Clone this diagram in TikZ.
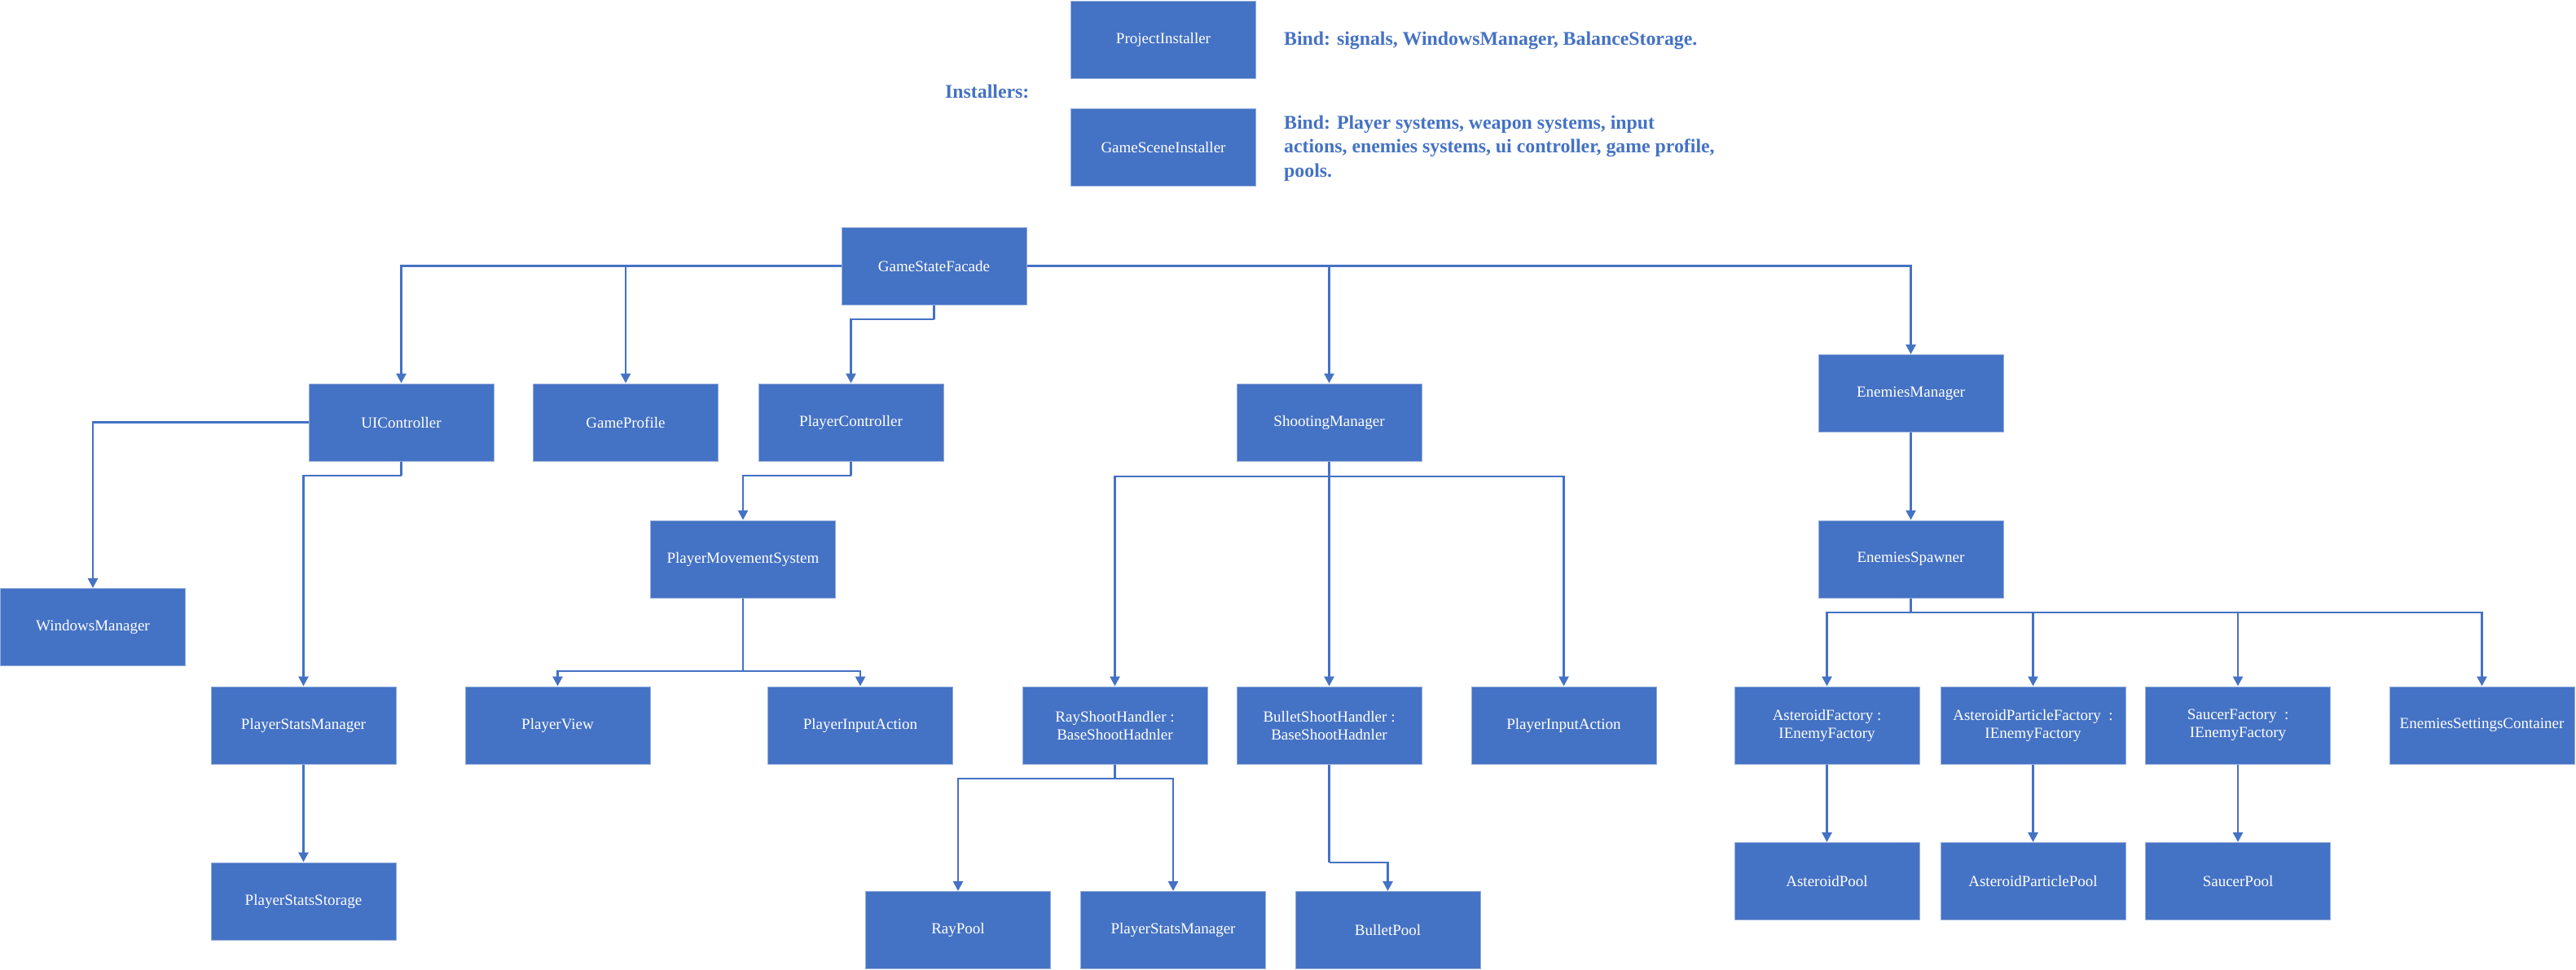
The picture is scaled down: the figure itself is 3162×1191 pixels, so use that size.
\documentclass[tikz,border=0pt]{standalone}
\usepackage{fontspec}
\setmainfont{Liberation Serif}
\usetikzlibrary{arrows.meta}
\definecolor{boxblue}{RGB}{68,114,196}
\definecolor{boxedge}{RGB}{150,175,220}
\tikzset{
  box/.style={rectangle, fill=boxblue, draw=boxedge, line width=1pt,
    minimum width=227pt, minimum height=95pt, inner sep=0pt,
    text=white, align=center, font=\fontsize{19}{22}\selectfont},
  conn/.style={draw=boxblue, line width=2.8pt,
    -{Triangle[length=12pt,width=12pt]}},
  plain/.style={draw=boxblue, line width=2.8pt},
  note/.style={text=boxblue, inner sep=0pt, align=left,
    font=\fontsize{23.8}{29.5}\selectfont\bfseries}
}
\begin{document}
\begin{tikzpicture}[x=1pt,y=-1pt]
\useasboundingbox[fill=white] (0,0) rectangle (3162,1191);

% installers
\node[box] (PI) at (1428,49) {ProjectInstaller};
\node[box] (GSI) at (1428,180.5) {GameSceneInstaller};
\node[note, anchor=base west] (inst) at (1160,120) {Installers:};
\node[note, anchor=base west] (bind1) at (1576,55) {Bind: signals, WindowsManager, BalanceStorage.};
\node[note, anchor=base west] (bind2) at (1576,217) {Bind: Player systems, weapon systems, input\\actions, enemies systems, ui controller, game profile,\\pools.};

% boxes
\node[box] (GSF) at (1146.5,326.5) {GameStateFacade};
\node[box] (UIC) at (492.5,518.5) {UIController};
\node[box] (GP) at (768,518.5) {GameProfile};
\node[box] (PC) at (1044.5,518.5) {PlayerController};
\node[box] (SM) at (1631.5,518.5) {ShootingManager};
\node[box] (EM) at (2345.5,483) {EnemiesManager};
\node[box] (ES) at (2345.5,686.5) {EnemiesSpawner};
\node[box] (WM) at (114,770) {WindowsManager};
\node[box] (PMS) at (912,686.5) {PlayerMovementSystem};
\node[box] (PSM) at (372.5,890.5) {PlayerStatsManager};
\node[box] (PSS) at (372.5,1106.5) {PlayerStatsStorage};
\node[box] (PV) at (684.5,890.5) {PlayerView};
\node[box] (PIA) at (1056,890.5) {PlayerInputAction};
\node[box] (RSH) at (1368.5,890.5) {RayShootHandler :\\BaseShootHadnler};
\node[box] (BSH) at (1631.5,890.5) {BulletShootHandler :\\BaseShootHadnler};
\node[box] (PIA2) at (1919.5,890.5) {PlayerInputAction};
\node[box] (AF) at (2242.5,890.5) {AsteroidFactory :\\IEnemyFactory};
\node[box] (APF) at (2495.5,890.5) {AsteroidParticleFactory\ \ :\\IEnemyFactory};
\node[box] (SF) at (2747,890.5) {SaucerFactory\ \ :\\IEnemyFactory};
\node[box] (ESC) at (3046.5,890.5) {EnemiesSettingsContainer};
\node[box] (RP) at (1176,1142) {RayPool};
\node[box] (PSM2) at (1440,1142) {PlayerStatsManager};
\node[box] (BP) at (1703.5,1142) {BulletPool};
\node[box] (AP) at (2242.5,1082) {AsteroidPool};
\node[box] (APP) at (2495.5,1082) {AsteroidParticlePool};
\node[box] (SP) at (2747,1082) {SaucerPool};

% junctions
\coordinate (gsfj) at (1146.5,392);
\coordinate (uicj) at (492.5,584);
\coordinate (pcj) at (1044.5,584);
\coordinate (pmsj) at (912,824);
\coordinate (smj) at (1631.5,585);
\coordinate (rshj) at (1368.5,956);
\coordinate (bshj) at (1631.5,1059);
\coordinate (esj) at (2345.5,752);

% connectors
\draw[conn] (GSF.west) -| (UIC.north);
\draw[conn] (GSF.west) -| (GP.north);
\draw[plain] (GSF.south) -- (gsfj);
\draw[conn] (gsfj) -| (PC.north);
\draw[conn] (GSF.east) -| (SM.north);
\draw[conn] (GSF.east) -| (EM.north);
\draw[conn] (EM.south) -- (ES.north);

\draw[conn] (UIC.west) -| (WM.north);
\draw[plain] (UIC.south) -- (uicj);
\draw[conn] (uicj) -| (PSM.north);
\draw[conn] (PSM.south) -- (PSS.north);

\draw[plain] (PC.south) -- (pcj);
\draw[conn] (pcj) -| (PMS.north);
\draw[plain] (PMS.south) -- (pmsj);
\draw[conn] (pmsj) -| (PV.north);
\draw[conn] (pmsj) -| (PIA.north);

\draw[plain] (SM.south) -- (smj);
\draw[conn] (smj) -| (RSH.north);
\draw[conn] (smj) -- (BSH.north);
\draw[conn] (smj) -| (PIA2.north);

\draw[plain] (RSH.south) -- (rshj);
\draw[conn] (rshj) -| (RP.north);
\draw[conn] (rshj) -| (PSM2.north);

\draw[plain] (BSH.south) -- (bshj);
\draw[conn] (bshj) -| (BP.north);

\draw[plain] (ES.south) -- (esj);
\draw[conn] (esj) -| (AF.north);
\draw[conn] (esj) -| (APF.north);
\draw[conn] (esj) -| (SF.north);
\draw[conn] (esj) -| (ESC.north);

\draw[conn] (AF.south) -- (AP.north);
\draw[conn] (APF.south) -- (APP.north);
\draw[conn] (SF.south) -- (SP.north);
\end{tikzpicture}
\end{document}
